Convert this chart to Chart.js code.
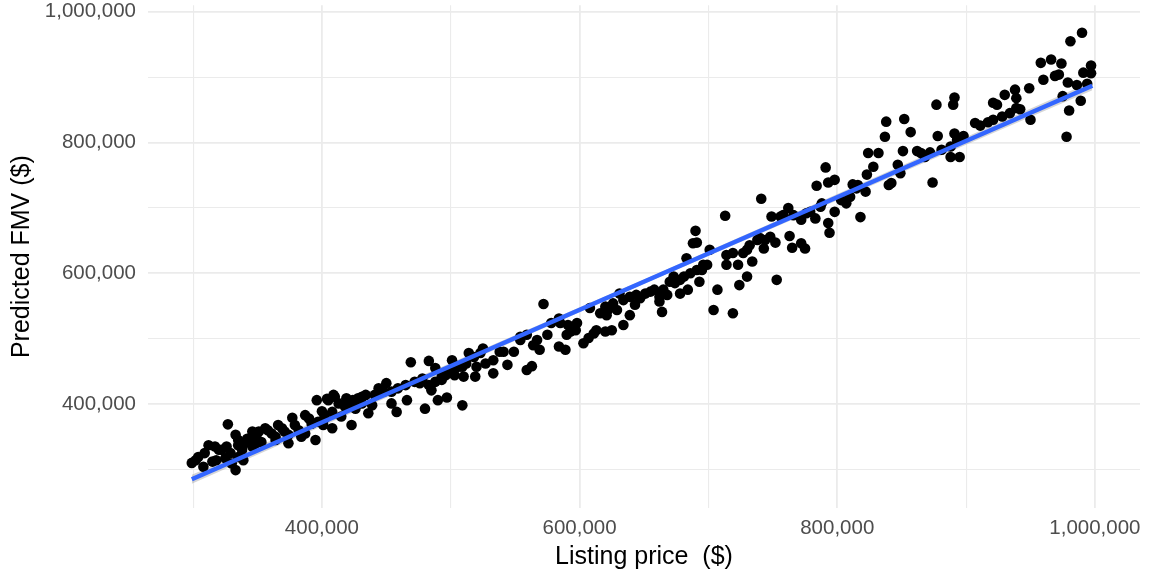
<!DOCTYPE html>
<html>
<head>
<meta charset="utf-8">
<script src="https://cdn.jsdelivr.net/npm/chart.js@4"></script>
<style>
  html, body { margin: 0; background: #fff; }
</style>
</head>
<body>
<canvas id="fmv" width="1151" height="579"></canvas>
<script>
// values, in thousands of dollars
const listingK = [
  327,333,335,346,349,312,317,322,329,338,340,304,299,308,315,333,339,325,346,349,
  309,320,326,335,342,346,302,318,330,335,
  396,404,400,387,377,366,356,351,361,371,382,392,397,395,374,353,364,384,402,
  358,369,379,390,374,364,387,401,348,
  450,444,454,458,434,428,419,410,405,408,415,423,436,426,418,439,454,402,
  431,441,448,413,423,
  469,483,501,514,488,496,503,509,478,472,465,459,485,490,497,509,466,480,
  488,493,501,506,512,483,
  476,431,424,409,408,498,493,
  572,608,616,621,584,578,591,597,590,613,620,607,603,559,554,567,569,564,584,589,
  549,538,525,533,544,527,520,533,519,559,563,510,
  518,523,541,554,575,593,598,611,585,
  713,690,688,691,701,683,696,691,693,684,678,681,673,674,665,668,658,651,644,639,
  631,626,620,629,643,662,664,639,634,625,704,707,719,724,714,719,714,723,727,730,
  647,655,670,678,686,695,699,622,634,662,
  838,837,824,832,828,823,791,793,798,784,812,816,822,810,807,798,788,779,783,772,
  762,758,749,741,818,793,794,763,772,775,765,752,744,738,732,743,734,753,840,
  730,740,748,756,766,776,787,803,815,
  990,981,958,966,974,997,991,997,969,972,960,979,986,994,949,938,939,930,921,924,
  942,928,950,917,911,907,975,980,989,978,891,890,877,852,857,878,891,898,893,
  851,862,865,872,868,881,888,888,895,847,849,842,874,
  921,934,939
];
const fmvK = [
  369,353,345,358,350,337,335,330,325,330,340,319,310,304,312,299,314,317,335,340,
  325,330,335,337,347,345,314,314,309,319,
  406,408,389,383,379,368,363,358,355,358,360,370,373,345,340,342,345,350,378,
  360,363,368,378,353,350,355,368,350,
  432,424,419,388,414,409,409,411,406,388,381,368,386,393,396,398,401,383,
  401,414,419,401,401,
  464,466,467,478,455,444,444,457,439,434,429,424,421,406,410,398,406,393,
  434,442,452,457,462,429,
  432,411,406,414,363,447,437,
  553,547,539,536,531,524,521,513,506,513,511,501,493,506,503,498,483,490,488,483,
  480,480,485,467,460,462,457,447,442,452,458,442,
  472,478,480,498,506,511,524,508,524,
  688,665,646,647,636,623,613,605,587,575,569,595,595,585,575,567,575,569,567,564,
  569,554,549,544,552,557,541,536,521,513,544,575,539,582,628,631,613,613,631,595,
  562,572,587,590,600,605,613,544,559,564,
  832,809,784,784,763,751,762,739,743,734,736,735,725,717,707,694,707,694,684,682,
  700,689,687,714,686,677,662,657,646,638,639,647,651,651,643,638,618,590,735,
  636,654,656,687,689,692,702,712,730,
  968,955,922,927,921,918,907,906,902,904,896,892,888,890,883,881,868,873,861,858,
  851,840,835,831,826,830,871,849,864,809,869,858,858,836,816,810,814,810,804,
  787,787,784,785,778,789,794,778,778,766,753,738,739,
  835,845,853
];

// fitted line and its narrow band
const fitX = [299000, 998000];
const fitY = [285000, 887000];
const bandX = [299000, 650000, 998000];
const bandHigh = [292000, 590500, 894000];
const bandLow = [278000, 584000, 880000];

const majorTicks = [400000, 600000, 800000, 1000000];
const gridTicks = [300000, 400000, 500000, 600000, 700000, 800000, 900000, 1000000];

const points = listingK.map((x, i) => ({ x: x * 1000, y: fmvK[i] * 1000 }));
const toXY = (xs, ys) => xs.map((x, i) => ({ x: x, y: ys[i] }));

const fontFamily = '"Liberation Sans", Arial, sans-serif';

function gridWidth(ctx) {
  return majorTicks.includes(ctx.tick.value) ? 1.8 : 1.1;
}

function axisLabel(value) {
  return majorTicks.includes(value) ? value.toLocaleString('en-US') : '';
}

new Chart('fmv', {
  type: 'scatter',
  data: {
    datasets: [
      {
        data: toXY(fitX, fitY),
        showLine: true,
        borderColor: '#3366FF',
        borderWidth: 4.5,
        pointRadius: 0,
        order: 0
      },
      {
        data: points,
        backgroundColor: '#000000',
        borderWidth: 0,
        pointRadius: 5.3,
        order: 1
      },
      {
        data: toXY(bandX, bandHigh),
        showLine: true,
        borderWidth: 0,
        pointRadius: 0,
        fill: '+1',
        backgroundColor: 'rgba(153,153,153,0.4)',
        order: 2
      },
      {
        data: toXY(bandX, bandLow),
        showLine: true,
        borderWidth: 0,
        pointRadius: 0,
        order: 3
      }
    ]
  },
  options: {
    responsive: false,
    animation: false,
    layout: { padding: { top: 5, right: 11, bottom: 0, left: 0 } },
    plugins: {
      legend: { display: false },
      tooltip: { enabled: false }
    },
    scales: {
      x: {
        min: 265000,
        max: 1035000,
        afterBuildTicks: s => { s.ticks = gridTicks.map(v => ({ value: v })); },
        afterFit: s => { s.height = 71; s.paddingLeft = 0; s.paddingRight = 0; },
        border: { display: false },
        grid: { color: '#EBEBEB', lineWidth: gridWidth, drawTicks: false },
        ticks: {
          callback: axisLabel,
          autoSkip: false,
          maxRotation: 0,
          padding: 8,
          color: '#4D4D4D',
          font: { family: fontFamily, size: 20.5 }
        },
        title: {
          display: true,
          text: 'Listing price  ($)',
          color: '#000000',
          font: { family: fontFamily, size: 25 },
          padding: { top: 0, bottom: 7 }
        }
      },
      y: {
        min: 241000,
        max: 1010000,
        afterBuildTicks: s => { s.ticks = gridTicks.map(v => ({ value: v })); },
        afterFit: s => { s.width = 148; s.paddingTop = 0; s.paddingBottom = 0; },
        border: { display: false },
        grid: { color: '#EBEBEB', lineWidth: gridWidth, drawTicks: false },
        ticks: {
          callback: axisLabel,
          autoSkip: false,
          padding: 12,
          color: '#4D4D4D',
          font: { family: fontFamily, size: 20.5 }
        },
        title: {
          display: true,
          text: 'Predicted FMV ($)',
          color: '#000000',
          font: { family: fontFamily, size: 25 },
          padding: { top: 7, bottom: 0 }
        }
      }
    }
  }
});
</script>
</body>
</html>
